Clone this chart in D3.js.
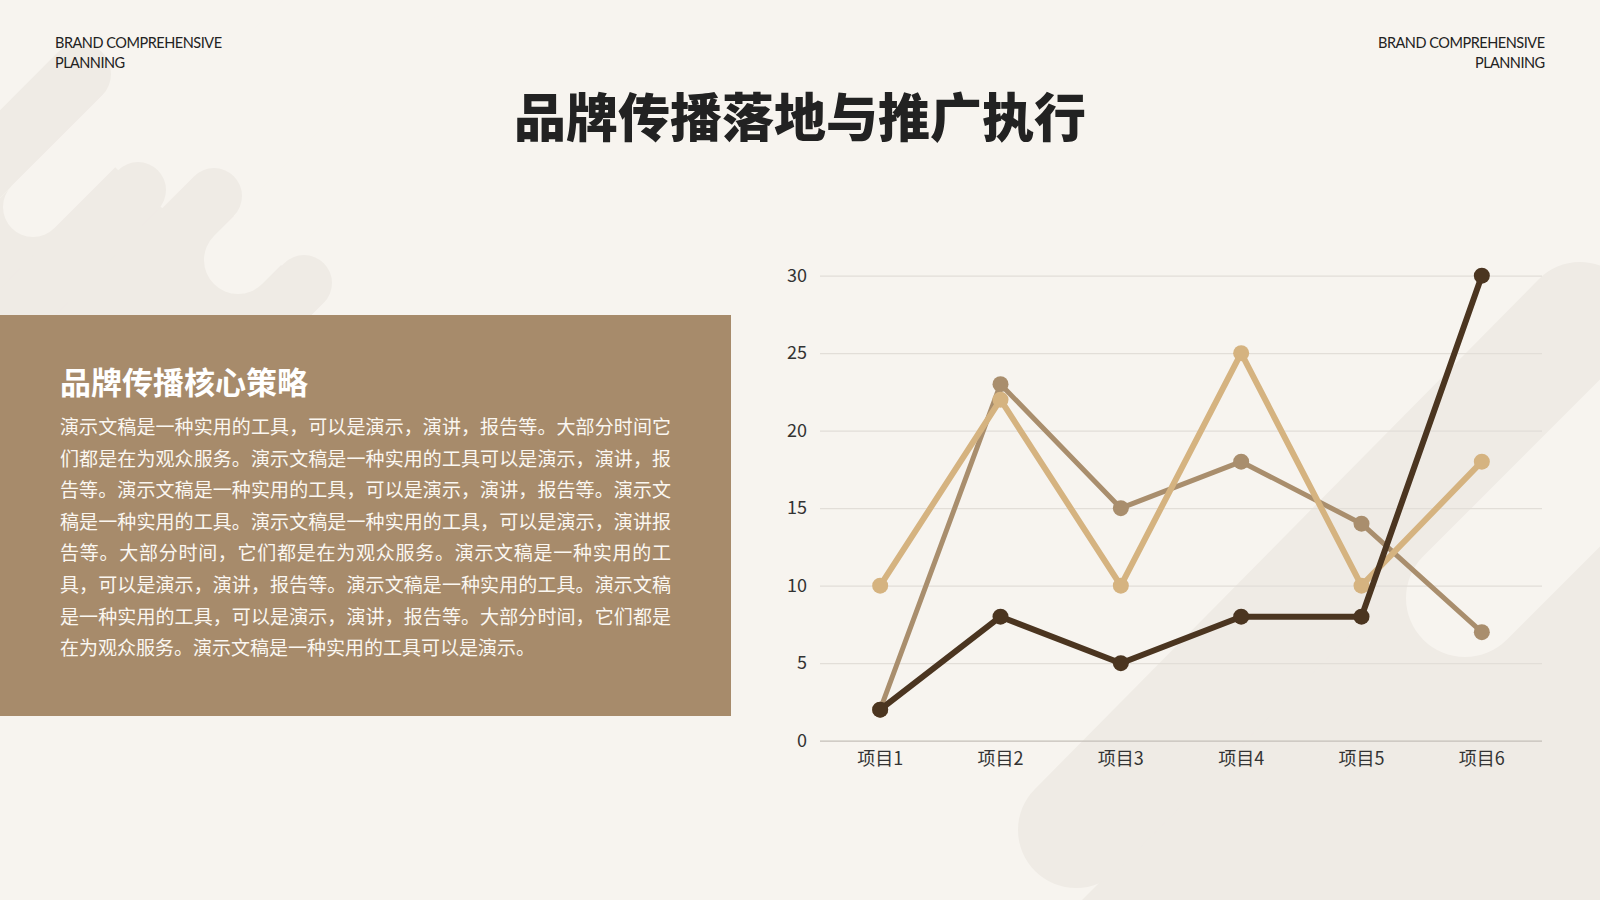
<!DOCTYPE html>
<html>
<head>
<meta charset="utf-8">
<script src="https://cdn.jsdelivr.net/npm/d3@7"></script>
<style>
  html, body { margin: 0; padding: 0; background: #f7f4ef; }
  svg { display: block; }
</style>
</head>
<body>
<div id="container"></div>
<script>
var width = 1600;
var height = 900;

// chart data
var categories = ["项目1", "项目2", "项目3", "项目4", "项目5", "项目6"];
var seriesNames = ["系列1", "系列2", "系列3"];
var series1 = [2, 8, 5, 8, 8, 30];
var series2 = [2, 23, 15, 18, 14, 7];
var series3 = [10, 22, 10, 25, 10, 18];
var yTicks = [0, 5, 10, 15, 20, 25, 30];

// text
var headerText = ["BRAND COMPREHENSIVE", "PLANNING"];
var titleText = "品牌传播落地与推广执行";
var panelTitle = "品牌传播核心策略";
var panelLines = [
  "演示文稿是一种实用的工具，可以是演示，演讲，报告等。大部分时间它",
  "们都是在为观众服务。演示文稿是一种实用的工具可以是演示，演讲，报",
  "告等。演示文稿是一种实用的工具，可以是演示，演讲，报告等。演示文",
  "稿是一种实用的工具。演示文稿是一种实用的工具，可以是演示，演讲报",
  "告等。大部分时间，它们都是在为观众服务。演示文稿是一种实用的工",
  "具，可以是演示，演讲，报告等。演示文稿是一种实用的工具。演示文稿",
  "是一种实用的工具，可以是演示，演讲，报告等。大部分时间，它们都是",
  "在为观众服务。演示文稿是一种实用的工具可以是演示。"
];

var bg = "#f7f4ef";
var shapeColor = "#efebe5";
var cjk = "'Noto Sans CJK SC', 'Noto Sans', sans-serif";

var svg = d3.select("#container").append("svg")
  .attr("width", width)
  .attr("height", height);

svg.append("rect").attr("width", width).attr("height", height).attr("fill", bg);

// background capsules
var deco = svg.append("g");
function capsule(x1, y1, x2, y2, r, color) {
  deco.append("line")
    .attr("x1", x1).attr("y1", y1).attr("x2", x2).attr("y2", y2)
    .attr("stroke", color || shapeColor)
    .attr("stroke-width", r * 2)
    .attr("stroke-linecap", "round");
}
// top left group
deco.append("path")
  .attr("d", "M0,198 L99,99 L115,167 L138,190 L185,225 L214,196 L234,216 L281,265 L304,283 L272,315 L0,315 Z")
  .attr("fill", shapeColor);
capsule(80, 74, -150, 304, 31);
capsule(138, 190, -100, 428, 28);
capsule(214, 196, -50, 460, 28);
capsule(304, 283, 200, 387, 28);
capsule(33, 207, 300, -60, 30, bg);
capsule(238, 260, 450, 48, 34, bg);
// right group
deco.append("path")
  .attr("d", "M1082,900 L1600,382 L1600,900 Z")
  .attr("fill", shapeColor);
capsule(1076, 830, 1580, 320, 58);
capsule(1465, 598, 1700, 363, 59, bg);

// header
[[55, "start"], [1545, "end"]].forEach(function(h) {
  var t = svg.append("g").attr("fill", "#222")
    .style("font-family", "Lato, 'Open Sans', sans-serif")
    .style("font-size", "14.5px");
  t.append("text").attr("x", h[0]).attr("y", 47.5)
    .attr("text-anchor", h[1])
    .attr("textLength", 167).attr("lengthAdjust", "spacing")
    .text(headerText[0]);
  t.append("text").attr("x", h[0]).attr("y", 67.5)
    .attr("text-anchor", h[1])
    .attr("textLength", 70).attr("lengthAdjust", "spacing")
    .text(headerText[1]);
});

// title
svg.append("text")
  .attr("x", 800).attr("y", 137)
  .attr("text-anchor", "middle")
  .attr("fill", "#222")
  .style("font-family", cjk)
  .style("font-size", "52px")
  .style("font-weight", 900)
  .text(titleText);

// left panel
svg.append("rect")
  .attr("x", 0).attr("y", 315)
  .attr("width", 731).attr("height", 401)
  .attr("fill", "#a78b6b");

svg.append("text")
  .attr("x", 60).attr("y", 394)
  .attr("fill", "#ffffff")
  .style("font-family", cjk)
  .style("font-size", "31px")
  .style("font-weight", 700)
  .text(panelTitle);

svg.append("g").selectAll("text")
  .data(panelLines)
  .enter().append("text")
    .attr("x", 60)
    .attr("y", function(d, i) { return 434 + i * 31.6; })
    .attr("fill", "#fbf7f1")
    .style("font-family", cjk)
    .style("font-size", "19px")
    .each(function(d, i) {
      if (i < panelLines.length - 1) {
        d3.select(this).attr("textLength", 611).attr("lengthAdjust", "spacing");
      }
    })
    .text(function(d) { return d; });

// line chart
var plotLeft = 820, plotRight = 1542, plotTop = 275.7, plotBottom = 740.7;

var x = d3.scaleBand()
  .domain(categories)
  .range([plotLeft, plotRight])
  .padding(0);

var y = d3.scaleLinear()
  .domain([0, 30])
  .range([plotBottom, plotTop]);

var yAxis = svg.append("g")
  .attr("transform", "translate(" + plotLeft + ",0)")
  .call(d3.axisLeft(y).tickValues(yTicks).tickSize(-(plotRight - plotLeft)).tickPadding(13));
yAxis.select(".domain").remove();
yAxis.selectAll(".tick line")
  .attr("stroke", function(d) { return d === 0 ? "#c4bfb8" : "#e2ded8"; })
  .attr("stroke-width", 1.2);
yAxis.selectAll(".tick text")
  .attr("fill", "#333")
  .style("font-family", cjk)
  .style("font-size", "18px");

var xAxis = svg.append("g")
  .attr("transform", "translate(0," + plotBottom + ")")
  .call(d3.axisBottom(x).tickSize(0).tickPadding(11.5));
xAxis.select(".domain").remove();
xAxis.selectAll(".tick text")
  .attr("fill", "#333")
  .style("font-family", cjk)
  .style("font-size", "18px");

var seriesData = [
  { name: seriesNames[1], values: series2, color: "#a98e6d", w: 5 },
  { name: seriesNames[2], values: series3, color: "#d5b380", w: 6 },
  { name: seriesNames[0], values: series1, color: "#4b3520", w: 6 }
];

var line = d3.line()
  .x(function(d, i) { return x(categories[i]) + x.bandwidth() / 2; })
  .y(function(d) { return y(d); });

seriesData.forEach(function(s) {
  var g = svg.append("g");
  g.append("path")
    .datum(s.values)
    .attr("d", line)
    .attr("fill", "none")
    .attr("stroke", s.color)
    .attr("stroke-width", s.w)
    .attr("stroke-linejoin", "round");
  g.selectAll("circle")
    .data(s.values)
    .enter().append("circle")
      .attr("cx", function(d, i) { return x(categories[i]) + x.bandwidth() / 2; })
      .attr("cy", function(d) { return y(d); })
      .attr("r", 8)
      .attr("fill", s.color);
});
</script>
</body>
</html>
